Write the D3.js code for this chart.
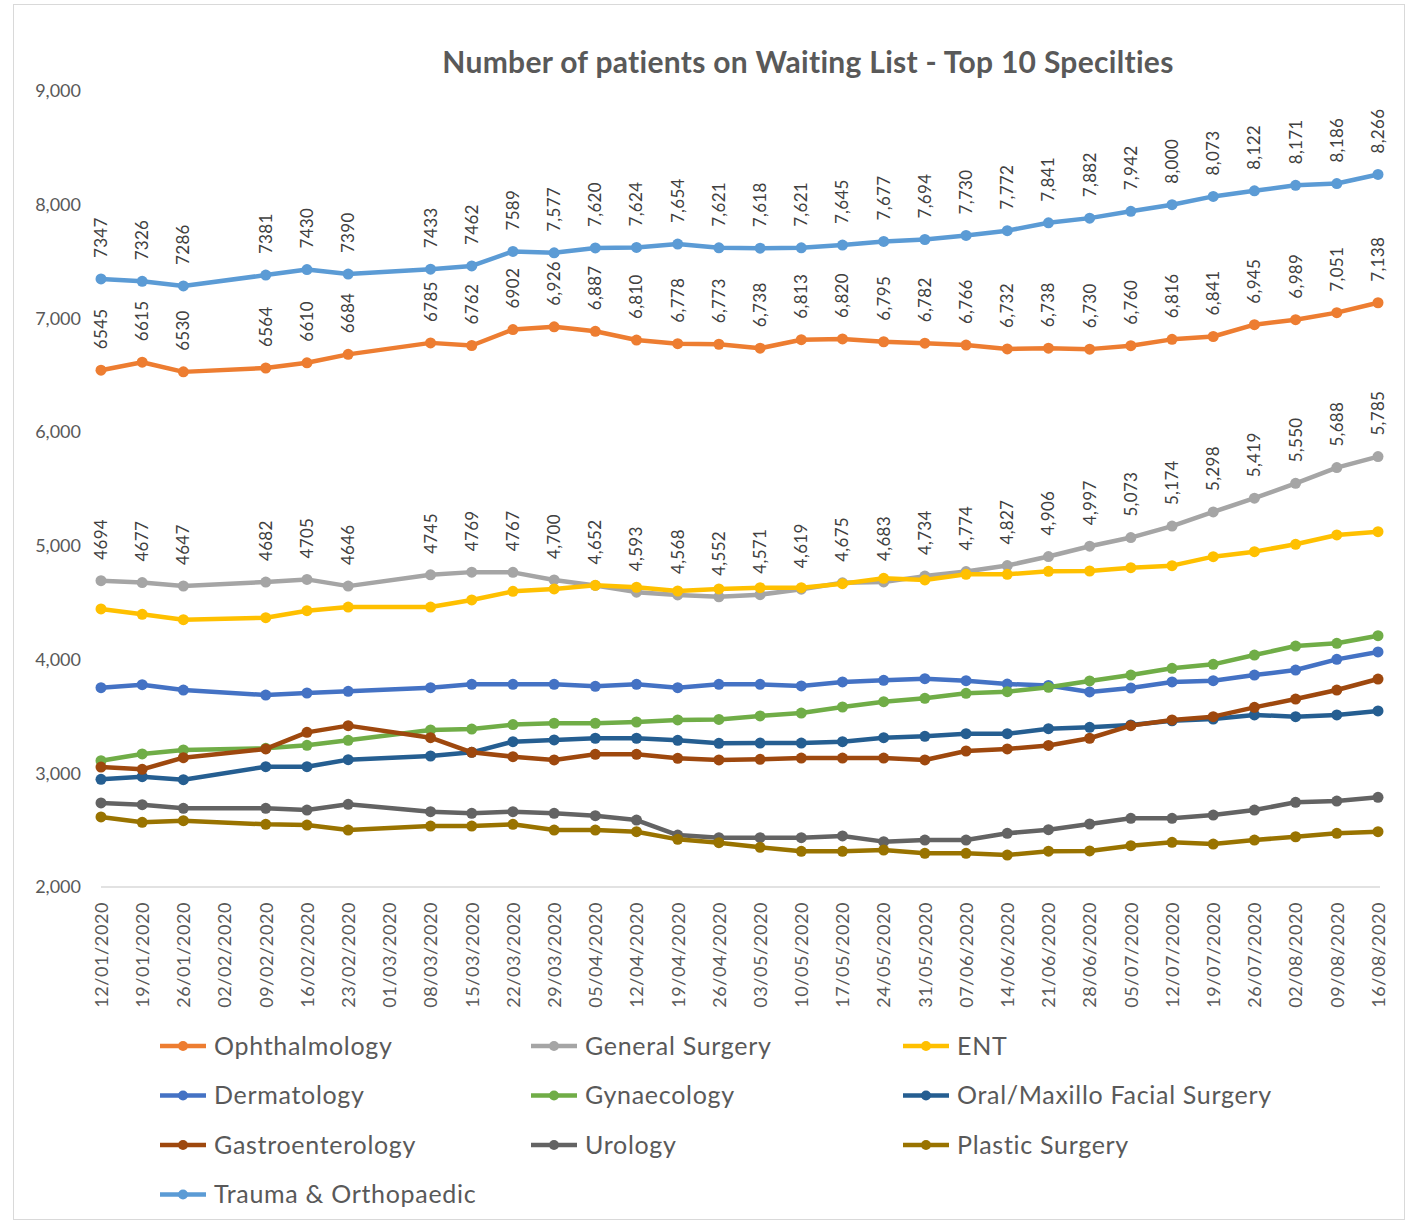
<!DOCTYPE html>
<html>
<head>
<meta charset="utf-8">
<script src="https://d3js.org/d3.v7.min.js"></script>
<style>
  body { margin: 0; background: #fff; }
  text { font-family: Lato, "Open Sans", sans-serif; }
</style>
</head>
<body>
<div id="chart"></div>
<script>
// Weekly snapshot dates (02/02 and 01/03 have no data)
let dates = ["12/01/2020", "19/01/2020", "26/01/2020", "02/02/2020", "09/02/2020", "16/02/2020",
  "23/02/2020", "01/03/2020", "08/03/2020", "15/03/2020", "22/03/2020", "29/03/2020",
  "05/04/2020", "12/04/2020", "19/04/2020", "26/04/2020", "03/05/2020", "10/05/2020",
  "17/05/2020", "24/05/2020", "31/05/2020", "07/06/2020", "14/06/2020", "21/06/2020",
  "28/06/2020", "05/07/2020", "12/07/2020", "19/07/2020", "26/07/2020", "02/08/2020",
  "09/08/2020", "16/08/2020"]

let ophthalmology = [6545, 6615, 6530, null, 6564, 6610, 6684, null, 6785, 6762, 6902, 6926, 6887, 6810, 6778, 6773,
  6738, 6813, 6820, 6795, 6782, 6766, 6732, 6738, 6730, 6760, 6816, 6841, 6945, 6989, 7051, 7138]
let generalSurgery = [4694, 4677, 4647, null, 4682, 4705, 4646, null, 4745, 4769, 4767, 4700, 4652, 4593, 4568, 4552,
  4571, 4619, 4675, 4683, 4734, 4774, 4827, 4906, 4997, 5073, 5174, 5298, 5419, 5550, 5688, 5785]
let ent = [4445, 4398, 4351, null, 4368, 4430, 4462, null, 4462, 4524, 4600, 4621, 4653, 4636, 4603, 4621,
  4632, 4632, 4667, 4715, 4700, 4750, 4750, 4776, 4779, 4808, 4826, 4905, 4949, 5014, 5096, 5125]
let dermatology = [3753, 3779, 3732, null, 3688, 3706, 3721, null, 3753, 3782, 3782, 3782, 3765, 3782, 3753, 3782,
  3782, 3768, 3803, 3818, 3832, 3814, 3785, 3772, 3715, 3750, 3803, 3814, 3864, 3908, 4002, 4067]
let gynaecology = [3111, 3170, 3205, null, 3220, 3246, 3290, null, 3381, 3389, 3428, 3440, 3440, 3451, 3469, 3474,
  3504, 3530, 3583, 3630, 3659, 3703, 3718, 3756, 3812, 3864, 3923, 3958, 4040, 4119, 4143, 4210]
let oralMaxillo = [2947, 2970, 2944, null, 3058, 3058, 3120, null, 3152, 3184, 3278, 3293, 3308, 3308, 3290, 3264,
  3266, 3266, 3278, 3313, 3325, 3348, 3348, 3392, 3404, 3425, 3462, 3477, 3513, 3498, 3513, 3548]
let gastroenterology = [3055, 3035, 3137, null, 3214, 3360, 3419, null, 3313, 3184, 3146, 3117, 3167, 3167, 3132, 3117,
  3123, 3134, 3134, 3134, 3117, 3196, 3214, 3245, 3308, 3419, 3469, 3498, 3580, 3653, 3732, 3829]
let urology = [2739, 2724, 2692, null, 2692, 2677, 2727, null, 2662, 2648, 2662, 2648, 2627, 2589, 2457, 2434,
  2434, 2434, 2449, 2399, 2413, 2413, 2472, 2504, 2554, 2604, 2604, 2633, 2677, 2745, 2756, 2789]
let plasticSurgery = [2616, 2569, 2583, null, 2551, 2545, 2501, null, 2536, 2536, 2551, 2501, 2501, 2486, 2419, 2390,
  2349, 2314, 2314, 2325, 2296, 2296, 2281, 2315, 2317, 2363, 2393, 2378, 2413, 2442, 2472, 2486]
let trauma = [7347, 7326, 7286, null, 7381, 7430, 7390, null, 7433, 7462, 7589, 7577, 7620, 7624, 7654, 7621,
  7618, 7621, 7645, 7677, 7694, 7730, 7772, 7841, 7882, 7942, 8000, 8073, 8122, 8171, 8186, 8266]

let yTicks = [2000, 3000, 4000, 5000, 6000, 7000, 8000, 9000]
// labels before this date were shown without thousands separator
let commaFrom = "29/03/2020"

// series in legend / drawing order
let series = [
  {name: "Ophthalmology", values: ophthalmology, color: "#ED7D31", labels: true},
  {name: "General Surgery", values: generalSurgery, color: "#A5A5A5", labels: true},
  {name: "ENT", values: ent, color: "#FFC000"},
  {name: "Dermatology", values: dermatology, color: "#4472C4"},
  {name: "Gynaecology", values: gynaecology, color: "#70AD47"},
  {name: "Oral/Maxillo Facial Surgery", values: oralMaxillo, color: "#255E91"},
  {name: "Gastroenterology", values: gastroenterology, color: "#9E480E"},
  {name: "Urology", values: urology, color: "#636363"},
  {name: "Plastic Surgery", values: plasticSurgery, color: "#997300"},
  {name: "Trauma & Orthopaedic", values: trauma, color: "#5B9BD5", labels: true}
]

let W = 1408, H = 1223

let svg = d3.select("#chart")
  .append("svg")
  .attr("width", W)
  .attr("height", H)

// chart frame
svg.append("rect")
  .attr("x", 13.5).attr("y", 4.5)
  .attr("width", 1391).attr("height", 1215)
  .attr("fill", "none")
  .attr("stroke", "#d9d9d9")

svg.append("text")
  .attr("x", 808).attr("y", 73)
  .attr("text-anchor", "middle")
  .attr("font-size", 30)
  .attr("font-weight", "bold")
  .attr("letter-spacing", 0.3)
  .attr("fill", "#595959")
  .text("Number of patients on Waiting List - Top 10 Specilties")

let x = d3.scalePoint().domain(dates).range([101, 1378])
let y = d3.scaleLinear().domain([2000, 9000]).range([887, 91])

// y axis (labels only)
let yAxis = svg.append("g")
  .attr("transform", "translate(81,0)")
  .call(d3.axisLeft(y).tickValues(yTicks).tickFormat(d3.format(",")).tickSize(0).tickPadding(0))
yAxis.select(".domain").remove()
yAxis.selectAll("text")
  .attr("font-size", 18)
  .attr("fill", "#595959")
  .style("font-family", "Lato, 'Open Sans', sans-serif")

// baseline
svg.append("line")
  .attr("x1", 101).attr("x2", 1380)
  .attr("y1", y(2000)).attr("y2", y(2000))
  .attr("stroke", "#d9d9d9")
  .attr("stroke-width", 1.5)

// x axis with rotated date labels
let xAxis = svg.append("g")
  .attr("transform", "translate(0," + y(2000) + ")")
  .call(d3.axisBottom(x).tickSize(0))
xAxis.select(".domain").remove()
xAxis.selectAll("text")
  .attr("font-size", 18)
  .attr("letter-spacing", 0.6)
  .attr("fill", "#595959")
  .style("font-family", "Lato, 'Open Sans', sans-serif")
  .attr("text-anchor", "end")
  .attr("transform", "rotate(-90)")
  .attr("x", -15)
  .attr("y", 0)
  .attr("dy", "0.35em")

let line = d3.line()
  .x(d => x(d.date))
  .y(d => y(d.value))

let pts = s => dates.map((d, i) => ({date: d, value: s.values[i], i: i}))
  .filter(p => p.value != null)

// lines and markers
series.forEach(s => {
  let g = svg.append("g")
  g.append("path")
    .datum(pts(s))
    .attr("d", line)
    .attr("fill", "none")
    .attr("stroke", s.color)
    .attr("stroke-width", 4.5)
    .attr("stroke-linejoin", "round")
  g.selectAll("circle")
    .data(pts(s))
    .enter()
    .append("circle")
    .attr("cx", d => x(d.date))
    .attr("cy", d => y(d.value))
    .attr("r", 5.5)
    .attr("fill", s.color)
})

// data labels on top
let firstComma = dates.indexOf(commaFrom)
series.filter(s => s.labels).forEach(s => {
  svg.append("g").selectAll("text")
    .data(pts(s))
    .enter()
    .append("text")
    .attr("transform", d => "translate(" + x(d.date) + "," + (y(d.value) - 21) + ") rotate(-90)")
    .attr("dy", "0.35em")
    .attr("font-size", 17)
    .attr("letter-spacing", 0.3)
    .attr("fill", "#404040")
    .text(d => d.i < firstComma ? String(d.value) : d3.format(",")(d.value))
})

// legend, three columns
let legend = svg.append("g")
  .selectAll("g")
  .data(series)
  .enter()
  .append("g")
  .attr("transform", (d, i) => "translate(" + [160, 531, 903][i % 3] + "," + (1046 + Math.floor(i / 3) * 49.5) + ")")

legend.append("line")
  .attr("x1", 0).attr("x2", 46)
  .attr("stroke", d => d.color)
  .attr("stroke-width", 4.5)
legend.append("circle")
  .attr("cx", 23)
  .attr("r", 5)
  .attr("fill", d => d.color)
legend.append("text")
  .attr("x", 54)
  .attr("dy", "0.35em")
  .attr("font-size", 25)
  .attr("letter-spacing", 0.7)
  .attr("fill", "#595959")
  .text(d => d.name)
</script>
</body>
</html>
